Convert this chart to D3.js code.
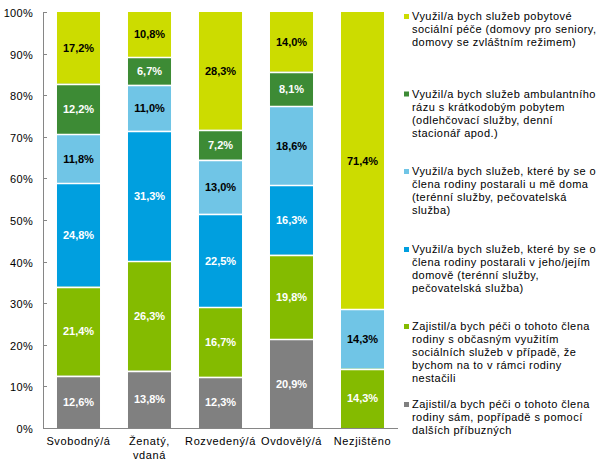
<!DOCTYPE html>
<html><head><meta charset="utf-8">
<script src="https://cdn.jsdelivr.net/npm/d3@7"></script>
<style>body{margin:0;background:#fff}svg{display:block;font-family:"Liberation Sans",Arial,sans-serif}</style>
</head><body><svg id="c" width="605" height="470"></svg>
<script>
const categories = ["Svobodný/á", "Ženatý,\nvdaná", "Rozvedený/á", "Ovdovělý/á", "Nezjištěno"];
const seriesNames = [
  "Zajistil/a bych péči o tohoto člena\nrodiny sám, popřípadě s pomocí\ndalších příbuzných",
  "Zajistil/a bych péči o tohoto člena\nrodiny s občasným využitím\nsociálních služeb v případě, že\nbychom na to v rámci rodiny\nnestačili",
  "Využil/a bych služeb, které by se o\nčlena rodiny postarali v jeho/jejím\ndomově (terénní služby,\npečovatelská služba)",
  "Využil/a bych služeb, které by se o\nčlena rodiny postarali u mě doma\n(terénní služby, pečovatelská\nslužba)",
  "Využil/a bych služeb ambulantního\nrázu s krátkodobým pobytem\n(odlehčovací služby, denní\nstacionář apod.)",
  "Využil/a bych služeb pobytové\nsociální péče (domovy pro seniory,\ndomovy se zvláštním režimem)"
];
const sRelatives = [12.6, 13.8, 12.3, 20.9, 0];
const sFamilyOccasional = [21.4, 26.3, 16.7, 19.8, 14.3];
const sTheirHome = [24.8, 31.3, 22.5, 16.3, 0];
const sMyHome = [11.8, 11.0, 13.0, 18.6, 14.3];
const sAmbulant = [12.2, 6.7, 7.2, 8.1, 0];
const sResidential = [17.2, 10.8, 28.3, 14.0, 71.4];
const seriesValues = [sRelatives, sFamilyOccasional, sTheirHome, sMyHome, sAmbulant, sResidential];
const colors = ["#808080", "#84bb00", "#009fdf", "#70c5e6", "#3d8b35", "#ccdc00"];
const labelColors = ["#fff", "#fff", "#fff", "#000", "#fff", "#000"];
const yTicks = [0, 0.1, 0.2, 0.3, 0.4, 0.5, 0.6, 0.7, 0.8, 0.9, 1];

(function () {
const svg = d3.select("#c");
const pL = 43, pR = 398, pT = 12, pB = 428;
const x = d3.scaleBand().domain(categories).range([pL, pR]).paddingInner(0.394).paddingOuter(0.197);
const y = d3.scaleLinear().domain([0, 1]).range([pB, pT]);

const rows = categories.map((c, i) => {
  const o = {cat: c};
  seriesValues.forEach((s, j) => o["s" + j] = s[i]);
  return o;
});
const keys = seriesValues.map((_, j) => "s" + j);
const stacked = d3.stack().keys(keys).offset(d3.stackOffsetExpand)(rows);

const g = svg.append("g");
stacked.forEach((layer, j) => {
  layer.forEach((d, i) => {
    const v = seriesValues[j][i];
    if (!v) return;
    const y0 = y(d[0]), y1 = y(d[1]);
    g.append("rect").attr("x", x(categories[i])).attr("y", y1).attr("width", x.bandwidth()).attr("height", y0 - y1)
      .attr("fill", colors[j]);
  });
});
stacked.forEach((layer, j) => {
  layer.forEach((d, i) => {
    if (!seriesValues[j][i] || d[1] >= 0.9999) return;
    const bx = x(categories[i]);
    const yy = Math.round(y(d[1])) + 0.5;
    g.append("line").attr("x1", bx).attr("x2", bx + x.bandwidth()).attr("y1", yy).attr("y2", yy)
      .attr("stroke", "#fff").attr("stroke-width", 1.5);
  });
});
stacked.forEach((layer, j) => {
  layer.forEach((d, i) => {
    const v = seriesValues[j][i];
    if (!v) return;
    g.append("text").attr("x", x(categories[i]) + x.bandwidth() / 2)
      .attr("y", (y(d[0]) + y(d[1])) / 2 + 4)
      .attr("text-anchor", "middle").attr("font-size", 11).attr("font-weight", "bold")
      .attr("fill", labelColors[j]).text(v.toFixed(1).replace(".", ",") + "%");
  });
});

const axisColor = "#868686";
svg.append("line").attr("x1", pL + 0.5).attr("x2", pL + 0.5).attr("y1", pT).attr("y2", pB)
  .attr("stroke", axisColor);
svg.append("line").attr("x1", pL).attr("x2", pR).attr("y1", pB + 0.5).attr("y2", pB + 0.5)
  .attr("stroke", axisColor);
yTicks.forEach(t => {
  const yy = Math.round(y(t)) + 0.5;
  svg.append("line").attr("x1", pL).attr("x2", pL + 4).attr("y1", yy).attr("y2", yy).attr("stroke", axisColor);
  svg.append("text").attr("x", 33).attr("y", yy + 4).attr("text-anchor", "end").attr("font-size", 11)
    .attr("letter-spacing", 0.3).attr("fill", "#000").text(Math.round(t * 100) + "%");
});
categories.forEach(c => {
  const lines = c.split("\n");
  const t = svg.append("text").attr("text-anchor", "middle").attr("font-size", 11).attr("fill", "#000")
    .attr("letter-spacing", 0.6);
  lines.forEach((l, k) => t.append("tspan").attr("x", x(c) + x.bandwidth() / 2).attr("y", 445 + k * 14).text(l));
});

const legendTops = [20, 97.5, 175, 253, 330, 408];
const order = [5, 4, 3, 2, 1, 0];
order.forEach((j, k) => {
  const ly = legendTops[k];
  svg.append("rect").attr("x", 404).attr("y", ly - 6).attr("width", 5).attr("height", 5).attr("fill", colors[j]);
  const t = svg.append("text").attr("font-size", 11).attr("fill", "#000").attr("letter-spacing", 0.45);
  seriesNames[j].split("\n").forEach((l, m) => t.append("tspan").attr("x", 412).attr("y", ly + m * 13).text(l));
});
})();
</script></body></html>
